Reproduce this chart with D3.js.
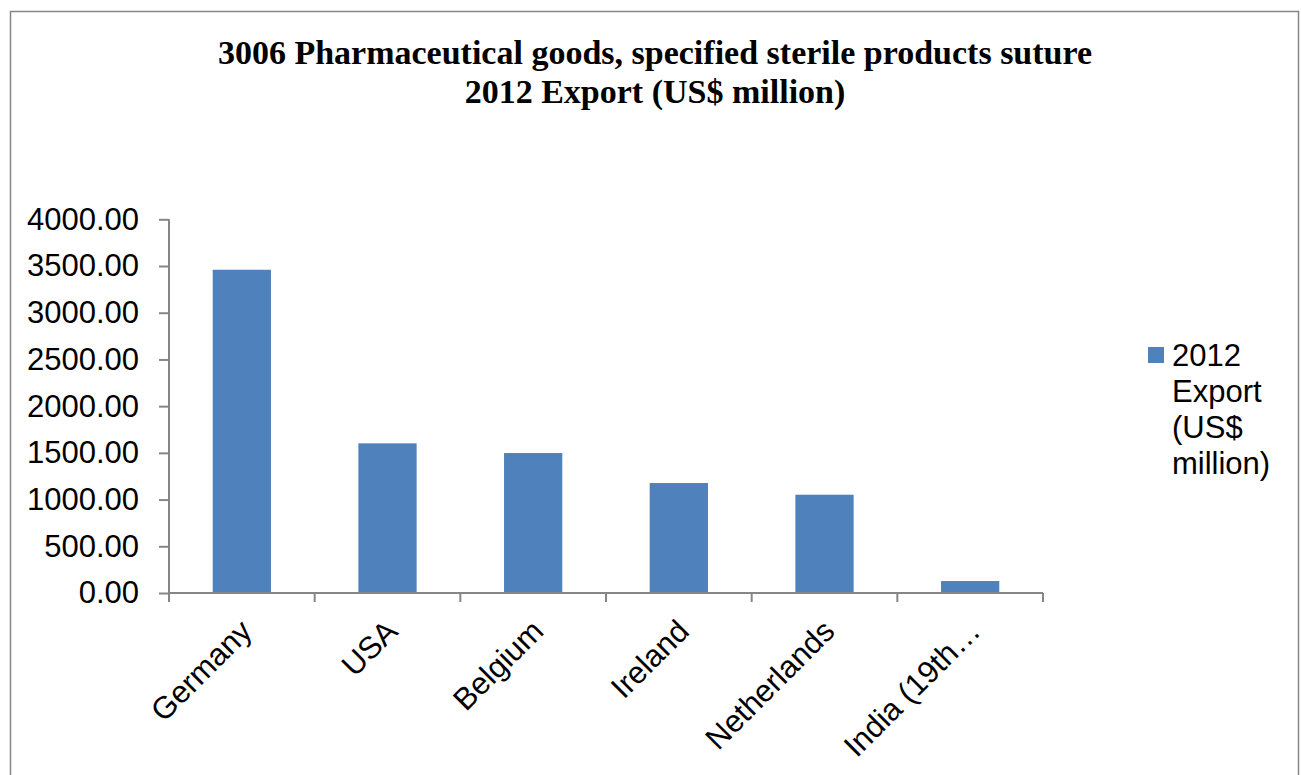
<!DOCTYPE html>
<html>
<head>
<meta charset="utf-8">
<script src="https://cdn.jsdelivr.net/npm/d3@7"></script>
<style>
  html, body { margin: 0; padding: 0; background: #fff; }
  svg { display: block; }
</style>
</head>
<body>
<svg id="chart" width="1301" height="775"></svg>
<script>
const titleLines = ["3006 Pharmaceutical goods, specified sterile products suture", "2012 Export (US$ million)"];
const categories = ["Germany", "USA", "Belgium", "Ireland", "Netherlands", "India (19th…"];
const values = [3460, 1602, 1498, 1177, 1052, 128];
const yTicks = [0, 500, 1000, 1500, 2000, 2500, 3000, 3500, 4000];
const legendLines = ["2012", "Export", "(US$", "million)"];

const svg = d3.select("#chart");

// outer frame
svg.append("rect").attr("x", 10.5).attr("y", 11.5).attr("width", 1288).attr("height", 800)
  .attr("fill", "#fff").attr("stroke", "#868686").attr("stroke-width", 1.5);

// title
const title = svg.append("text")
  .attr("text-anchor", "middle")
  .attr("font-family", "'Liberation Serif', 'Times New Roman', serif")
  .attr("font-weight", "bold")
  .attr("font-size", 34)
  .attr("fill", "#000");
titleLines.forEach((t, i) => {
  title.append("tspan").attr("x", 655).attr("y", 64 + i * 39).text(t);
});

const plot = { left: 169, right: 1043, top: 219.3, bottom: 593 };

const x = d3.scaleBand().domain(categories).range([plot.left, plot.right])
  .paddingInner(0.6).paddingOuter(0.3);
const y = d3.scaleLinear().domain([0, 4000]).range([plot.bottom, plot.top]);

// bars
svg.append("g").selectAll("rect").data(values).join("rect")
  .attr("x", (d, i) => x(categories[i]))
  .attr("y", d => y(d))
  .attr("width", x.bandwidth())
  .attr("height", d => y(0) - y(d))
  .attr("fill", "#4F81BD");

const axisColor = "#868686";

// y axis
const yAxis = svg.append("g").attr("transform", `translate(${plot.left},0)`)
  .call(d3.axisLeft(y).tickValues(yTicks).tickFormat(d3.format(".2f")).tickSize(10).tickPadding(20));
yAxis.select(".domain").attr("stroke", axisColor).attr("stroke-width", 2).attr("d", `M0,${plot.top}V${plot.bottom}`);
yAxis.selectAll(".tick line").attr("stroke", axisColor).attr("stroke-width", 2);
yAxis.selectAll(".tick text")
  .attr("font-family", "'Liberation Sans', Arial, sans-serif")
  .attr("font-size", 31).attr("fill", "#000");

// x axis: ticks at category boundaries
const step = x.step();
const boundaries = d3.range(categories.length + 1).map(i => plot.left + i * step);
const xg = svg.append("g");
xg.append("line").attr("x1", plot.left).attr("x2", plot.right)
  .attr("y1", plot.bottom).attr("y2", plot.bottom)
  .attr("stroke", axisColor).attr("stroke-width", 2);
xg.selectAll("line.tk").data(boundaries).join("line").attr("class", "tk")
  .attr("x1", d => d).attr("x2", d => d)
  .attr("y1", plot.bottom).attr("y2", plot.bottom + 9)
  .attr("stroke", axisColor).attr("stroke-width", 2);

xg.selectAll("text").data(categories).join("text")
  .attr("transform", d => `translate(${x(d) + x.bandwidth() / 2 + 12},${plot.bottom + 40}) rotate(-45)`)
  .attr("text-anchor", "end")
  .attr("font-family", "'Liberation Sans', Arial, sans-serif")
  .attr("font-size", 31)
  .attr("fill", "#000")
  .text(d => d);

// legend
const lg = svg.append("g");
lg.append("rect").attr("x", 1148).attr("y", 347).attr("width", 16).attr("height", 16).attr("fill", "#4F81BD");
const lt = lg.append("text")
  .attr("font-family", "'Liberation Sans', Arial, sans-serif")
  .attr("font-size", 31).attr("fill", "#000");
legendLines.forEach((t, i) => {
  lt.append("tspan").attr("x", 1172).attr("y", 366 + i * 36).text(t);
});
</script>
</body>
</html>
